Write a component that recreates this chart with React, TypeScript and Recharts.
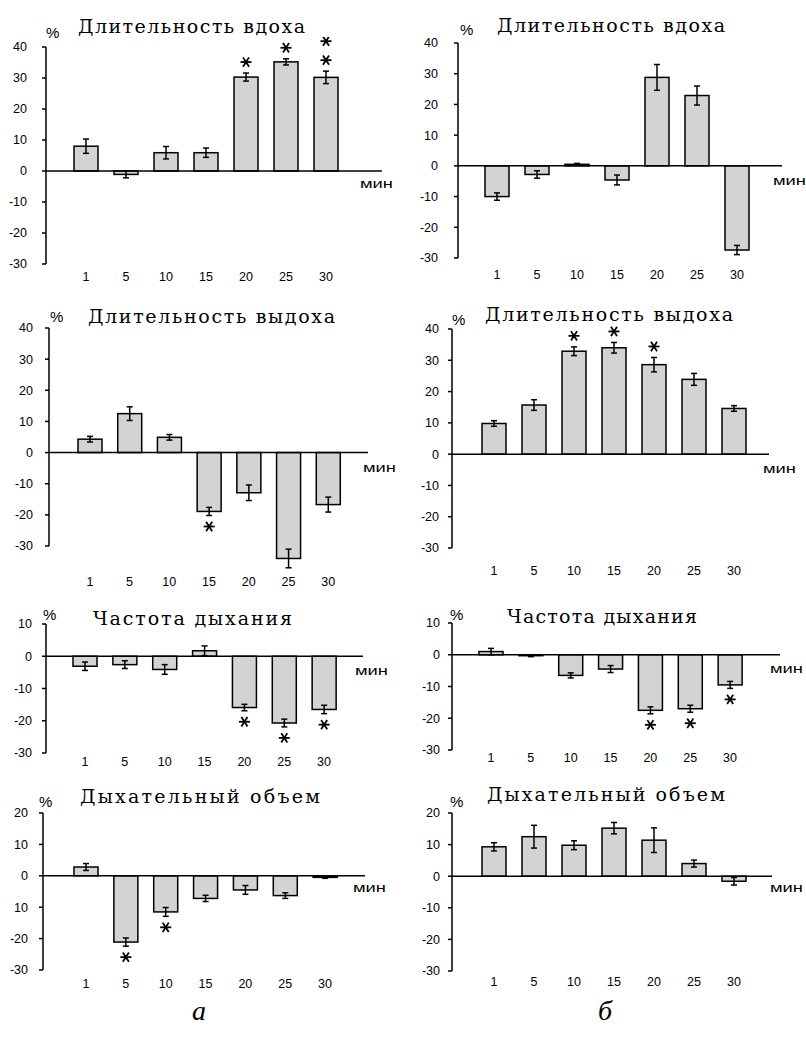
import { BarChart, Bar, XAxis, YAxis, ErrorBar, ReferenceLine } from "recharts";

const minutes = ["1", "5", "10", "15", "20", "25", "30"];

// а: длительность вдоха
const inhaleA = [8, -1.1, 5.9, 5.9, 30.3, 35.2, 30.2];
const inhaleAErr = [2.3, 1.1, 2, 1.5, 1.3, 1, 2];
const inhaleAStars = [0, 0, 0, 0, 1, 1, 2];
// б: длительность вдоха
const inhaleB = [-10, -2.8, 0.5, -4.6, 28.8, 22.9, -27.4];
const inhaleBErr = [1.2, 1.2, 0.3, 1.6, 4.2, 3.1, 1.5];
const inhaleBStars = [0, 0, 0, 0, 0, 0, 0];

// а: длительность выдоха
const exhaleA = [4.3, 12.5, 4.9, -18.9, -12.9, -34, -16.7];
const exhaleAErr = [0.9, 2.2, 0.9, 1.3, 2.5, 3, 2.4];
const exhaleAStars = [0, 0, 0, 1, 0, 0, 0];
// б: длительность выдоха
const exhaleB = [9.8, 15.7, 32.9, 34, 28.6, 23.9, 14.6];
const exhaleBErr = [0.9, 1.7, 1.4, 1.7, 2.3, 1.9, 0.9];
const exhaleBStars = [0, 0, 1, 1, 1, 0, 0];

// а: частота дыхания
const rateA = [-3.1, -2.6, -4.1, 1.7, -15.9, -20.7, -16.5];
const rateAErr = [1.3, 1.2, 1.5, 1.5, 1, 1.2, 1.3];
const rateAStars = [0, 0, 0, 0, 1, 1, 1];
// б: частота дыхания
const rateB = [1, -0.3, -6.5, -4.5, -17.5, -17, -9.5];
const rateBErr = [1, 0.3, 0.8, 1.1, 1.1, 1.1, 1.1];
const rateBStars = [0, 0, 0, 0, 1, 1, 1];

// а: дыхательный объем
const volumeA = [2.8, -21.1, -11.5, -7.2, -4.5, -6.3, -0.5];
const volumeAErr = [1.1, 1.3, 1.4, 1, 1.4, 0.9, 0.3];
const volumeAStars = [0, 1, 1, 0, 0, 0, 0];
// б: дыхательный объем
const volumeB = [9.3, 12.5, 9.8, 15.2, 11.4, 4, -1.6];
const volumeBErr = [1.3, 3.6, 1.4, 1.8, 3.9, 1.1, 1.2];
const volumeBStars = [0, 0, 0, 0, 0, 0, 0];

const ticks40 = [-30, -20, -10, 0, 10, 20, 30, 40];
const ticks10 = [-30, -20, -10, 0, 10];
const ticks20 = [-30, -20, -10, 0, 10, 20];
// the source prints "10" (no minus) at -10 on this panel
const ticks20LabelsA = ["-30", "-20", "10", "0", "10", "20"];

const titleInhale = "Длительность вдоха";
const titleExhale = "Длительность выдоха";
const titleRate = "Частота дыхания";
const titleVolume = "Дыхательный объем";

const panels = [
  { values: inhaleA, errors: inhaleAErr, stars: inhaleAStars, ticks: ticks40, title: titleInhale,
    left: 0, axisX: 46, yTop: 47, yBottom: 264, lineEnd: 382, padL: 20, padR: 36, yGap: 15, xGap: 8.5,
    tx: 78, tw: 227, ty: 33, px: 46, py: 38, mx: 360, my: 188 },
  { values: inhaleB, errors: inhaleBErr, stars: inhaleBStars, ticks: ticks40, title: titleInhale,
    left: 400, axisX: 458, yTop: 43, yBottom: 258, lineEnd: 782, padL: 19, padR: 25, yGap: 16, xGap: 12.5,
    tx: 497, tw: 228, ty: 32, px: 460, py: 35, mx: 773, my: 185 },
  { values: exhaleA, errors: exhaleAErr, stars: exhaleAStars, ticks: ticks40, title: titleExhale,
    left: 0, axisX: 49, yTop: 328, yBottom: 546, lineEnd: 368, padL: 21, padR: 20, yGap: 12, xGap: 31.5,
    tx: 88, tw: 247, ty: 323, px: 50, py: 322, mx: 363, my: 472 },
  { values: exhaleB, errors: exhaleBErr, stars: exhaleBStars, ticks: ticks40, title: titleExhale,
    left: 400, axisX: 452, yTop: 329, yBottom: 548, lineEnd: 769, padL: 22, padR: 15, yGap: 9, xGap: 18.5,
    tx: 485, tw: 248, ty: 321, px: 452, py: 325, mx: 763, my: 473 },
  { values: rateA, errors: rateAErr, stars: rateAStars, ticks: ticks10, title: titleRate,
    left: 0, axisX: 46, yTop: 624, yBottom: 753, lineEnd: 363, padL: 19, padR: 19, yGap: 10, xGap: 4.5,
    tx: 93, tw: 199, ty: 625, px: 43, py: 620, mx: 355, my: 675 },
  { values: rateB, errors: rateBErr, stars: rateBStars, ticks: ticks10, title: titleRate,
    left: 400, axisX: 452, yTop: 623, yBottom: 750, lineEnd: 780, padL: 19, padR: 30, yGap: 8, xGap: 3.5,
    tx: 507, tw: 190, ty: 623, px: 450, py: 620, mx: 770, my: 673 },
  { values: volumeA, errors: volumeAErr, stars: volumeAStars, ticks: ticks20, labels: ticks20LabelsA, title: titleVolume,
    left: 0, axisX: 43, yTop: 813, yBottom: 970, lineEnd: 365, padL: 23, padR: 20, yGap: 11, xGap: 9.5,
    tx: 80, tw: 240, ty: 803, px: 39, py: 807, mx: 353, my: 892 },
  { values: volumeB, errors: volumeBErr, stars: volumeBStars, ticks: ticks20, title: titleVolume,
    left: 400, axisX: 452, yTop: 813, yBottom: 971, lineEnd: 772, padL: 22, padR: 18, yGap: 8, xGap: 6.5,
    tx: 487, tw: 238, ty: 801, px: 450, py: 807, mx: 770, my: 892 },
];

const SANS = "Liberation Sans, Arial, sans-serif";
const SERIF = "DejaVu Serif, Liberation Serif, serif";
const ITALIC = "Liberation Serif, serif";

function Star({ cx, cy }: { cx: number; cy: number }) {
  const r = 5.5;
  return (
    <g stroke="#000" strokeWidth={1.8}>
      <line x1={cx - r} y1={cy} x2={cx + r} y2={cy} />
      <line x1={cx - r * 0.55} y1={cy - r * 0.85} x2={cx + r * 0.55} y2={cy + r * 0.85} />
      <line x1={cx + r * 0.55} y1={cy - r * 0.85} x2={cx - r * 0.55} y2={cy + r * 0.85} />
    </g>
  );
}

// bar rectangle plus significance asterisks beyond the error bar end
function BarShape(props: any) {
  const { x, y, width, height, payload } = props;
  const h = Number(height) || 0;
  const top = Math.min(y, y + h);
  const bottom = Math.max(y, y + h);
  const ppu = Math.abs(h) / Math.max(Math.abs(payload.v), 0.01);
  const cx = x + width / 2;
  const stars = [];
  for (let k = 0; k < payload.s; k++) {
    const cy = payload.v >= 0
      ? top - payload.e * ppu - 11 - k * 19
      : bottom + payload.e * ppu + 11 + k * 19;
    stars.push(<Star key={k} cx={cx} cy={cy} />);
  }
  return (
    <g>
      <rect x={x} y={top} width={width} height={bottom - top} fill="#d3d3d3" stroke="#000" strokeWidth={1.5} />
      {stars}
    </g>
  );
}

function Panel({ p }: { p: any }) {
  const data = minutes.map((m, i) => ({ m, v: p.values[i], e: p.errors[i], s: p.stars[i] }));
  const top = p.yTop - 10;
  const domain = [p.ticks[0], p.ticks[p.ticks.length - 1]];
  return (
    <div style={{ position: "absolute", left: p.left, top }}>
      <BarChart
        width={p.lineEnd - p.left + 10}
        height={p.yBottom - p.yTop + 65}
        data={data}
        margin={{ top: 10, right: 10, bottom: 0, left: 0 }}
        barSize={24}
      >
        <XAxis
          dataKey="m"
          axisLine={false}
          tickLine={false}
          tickSize={0}
          tickMargin={p.xGap}
          height={55}
          interval={0}
          padding={{ left: p.padL, right: p.padR }}
          tick={{ fill: "#000", fontSize: 12.5, fontFamily: SANS }}
        />
        <YAxis
          type="number"
          domain={domain}
          ticks={p.ticks}
          allowDataOverflow
          width={p.axisX - p.left}
          axisLine={{ stroke: "#000", strokeWidth: 1.5 }}
          tickLine={{ stroke: "#000", strokeWidth: 1.5 }}
          tickSize={4}
          tickMargin={p.yGap}
          tickFormatter={(v: number) => (p.labels ? p.labels[p.ticks.indexOf(v)] : String(v))}
          tick={{ fill: "#000", fontSize: 12.5, fontFamily: SANS }}
        />
        <ReferenceLine y={0} stroke="#000" strokeWidth={1.5} />
        <Bar dataKey="v" isAnimationActive={false} shape={BarShape}>
          <ErrorBar dataKey="e" width={3} stroke="#000" strokeWidth={1.5} direction="y" />
        </Bar>
      </BarChart>
    </div>
  );
}

export default function App() {
  return (
    <div style={{ position: "absolute", left: 0, top: 0, width: 806, height: 1039, background: "#fff" }}>
      <style>{".recharts-wrapper g { clip-path: none !important; }"}</style>
      {panels.map((p, i) => (
        <Panel key={i} p={p} />
      ))}
      <svg width={806} height={1039} style={{ position: "absolute", left: 0, top: 0, pointerEvents: "none" }}>
        {panels.map((p, i) => (
          <g key={i}>
            <text x={p.tx} y={p.ty} textLength={p.tw} lengthAdjust="spacing" fontFamily={SERIF} fontSize={19} fill="#000">
              {p.title}
            </text>
            <text x={p.px} y={p.py} fontFamily={SANS} fontSize={15} fill="#000">%</text>
            <text x={p.mx} y={p.my} textLength={33} lengthAdjust="spacingAndGlyphs" fontFamily={SANS} fontSize={13} fill="#000">
              мин
            </text>
          </g>
        ))}
        <text x={199} y={1020} textAnchor="middle" fontFamily={ITALIC} fontStyle="italic" fontSize={28} fill="#000">а</text>
        <text x={605} y={1020} textAnchor="middle" fontFamily={ITALIC} fontStyle="italic" fontSize={28} fill="#000">б</text>
      </svg>
    </div>
  );
}
